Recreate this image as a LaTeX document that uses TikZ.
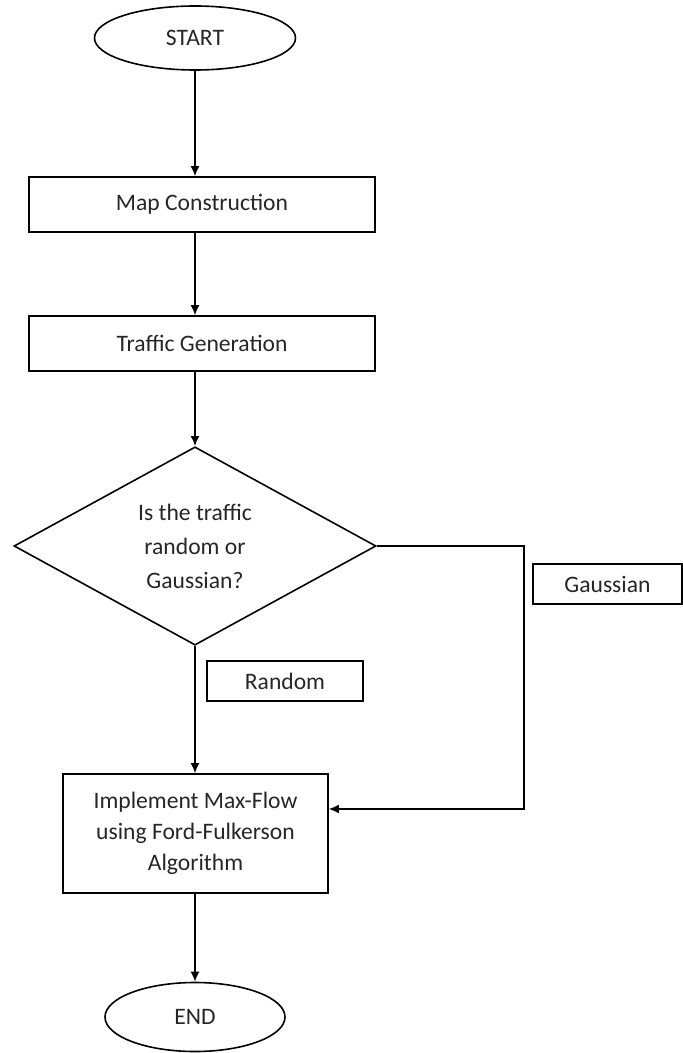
\documentclass[tikz,border=0pt]{standalone}
\usepackage{fontspec}
\setmainfont{Carlito}
\usetikzlibrary{shapes.geometric,arrows.meta}

\begin{document}
\begin{tikzpicture}[
		x=0.5pt, y=-0.5pt,
		every node/.style={font=\fontsize{11.8}{15.5}\selectfont, text=black!85},
		terminal/.style={ellipse,draw,line width=0.8pt,inner sep=0pt},
		process/.style={rectangle,draw,line width=0.8pt,inner sep=0pt,align=center},
		decision/.style={diamond,draw,line width=0.8pt,inner sep=0pt,align=center,
			minimum width=181pt,minimum height=99pt,font=\fontsize{11.8}{17}\selectfont},
		tag/.style={rectangle,draw,line width=0.8pt,minimum height=20pt,inner sep=0pt},
		flow/.style={line width=0.8pt,-{Latex[length=5pt,width=4.5pt]}}
	]
	\useasboundingbox (0,0) rectangle (683,1053);
	\node[terminal,minimum width=100.5pt,minimum height=32pt] (start) at (195,38) {START};
	\node[process,minimum width=173pt,minimum height=27.5pt] (map) at (202,204.5) {Map Construction};
	\node[process,minimum width=173pt,minimum height=27.5pt] (traffic) at (202,343.5) {Traffic Generation};
	\node[decision] (decide) at (195,546) {Is the traffic\\random or\\Gaussian?};
	\node[tag,minimum width=78pt] (random) at (285,681) {Random};
	\node[tag,minimum width=74.5pt] (gauss) at (607.5,584) {Gaussian};
	\node[process,minimum width=132.5pt,minimum height=59.5pt] (algo) at (195.5,833.5)
		{Implement Max-Flow\\using Ford-Fulkerson\\Algorithm};
	\node[terminal,minimum width=90pt,minimum height=34.5pt] (end) at (195,1017) {END};
	\coordinate (join) at (524,809);

	\draw[flow] (start.south) -- (start.south |- map.north);
	\draw[flow] (start.south |- map.south) -- (start.south |- traffic.north);
	\draw[flow] (start.south |- traffic.south) -- (decide.north);
	\draw[flow] (decide.south) -- (decide.south |- algo.north);
	\draw[flow] (decide.east) -| (join) -- (join -| algo.east);
	\draw[flow] (decide.south |- algo.south) -- (end.north);
\end{tikzpicture}
\end{document}
